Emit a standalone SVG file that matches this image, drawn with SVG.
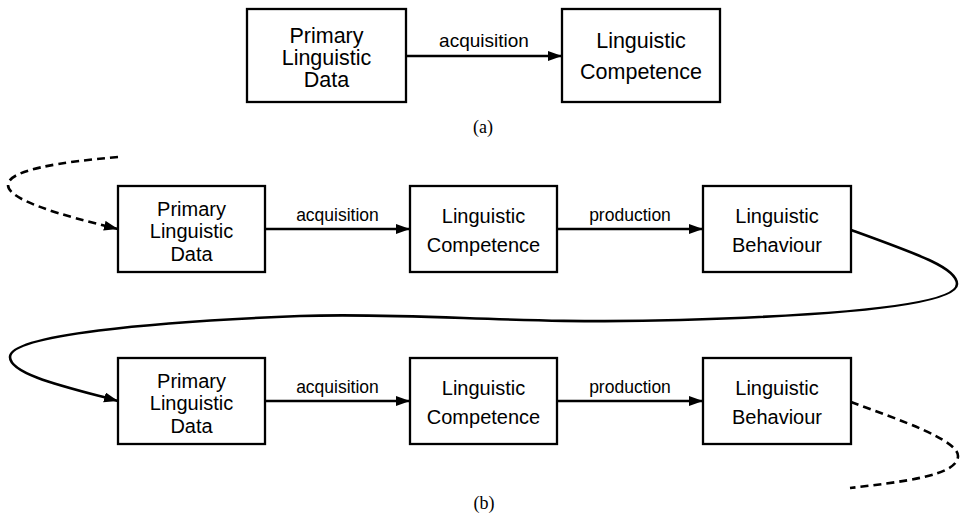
<svg xmlns="http://www.w3.org/2000/svg" width="961" height="516" viewBox="0 0 961 516">
<style>
.box{fill:#fff;stroke:#000;stroke-width:2.3}
.t{font-family:"Liberation Sans",Arial,sans-serif;font-size:20px;text-anchor:middle;fill:#000}
.ta{font-family:"Liberation Sans",Arial,sans-serif;font-size:21.5px;text-anchor:middle;fill:#000}
.lbl{font-family:"Liberation Sans",Arial,sans-serif;font-size:17.5px;text-anchor:middle;fill:#000}
.lbla{font-family:"Liberation Sans",Arial,sans-serif;font-size:19px;text-anchor:middle;fill:#000}
.cap{font-family:"Liberation Serif","Times New Roman",serif;font-size:18px;text-anchor:middle;fill:#000}
.e{fill:none;stroke:#000;stroke-width:2.3}
.c{fill:none;stroke:#000;stroke-width:2.6}
.d{stroke-dasharray:8,5}
</style>
<defs>
<marker id="ah" markerUnits="userSpaceOnUse" markerWidth="16" markerHeight="12" refX="14" refY="5" orient="auto">
<path d="M0,0 L14,5 L0,10 z" fill="#000"/>
</marker>
</defs>
<g id="connectors">
<path class="e" d="M406,56 H562" marker-end="url(#ah)"/>
<path class="e" d="M265,229 H410" marker-end="url(#ah)"/>
<path class="e" d="M557,229 H703" marker-end="url(#ah)"/>
<path class="e" d="M265,401 H410" marker-end="url(#ah)"/>
<path class="e" d="M557,401 H703" marker-end="url(#ah)"/>
<path class="c d" d="M118,157 C60,162 8,170 8,185 C8,200 60,215 118,229" marker-end="url(#ah)"/>
<path class="c" d="M851,230 C920,255 957,268 957,284 C957,304 850,315 680,320 C520,325 420,312 300,316 C150,322 10,335 10,357 C10,375 70,388 118,401" marker-end="url(#ah)"/>
<path class="c d" d="M851,402 C900,420 958,440 958,456 C958,476 900,482 850,488"/>
</g>
<g id="a-data">
<rect class="box" x="247" y="9" width="159" height="93"/>
<text class="ta" x="326.5" y="43">Primary</text>
<text class="ta" x="326.5" y="65">Linguistic</text>
<text class="ta" x="326.5" y="87">Data</text>
</g>
<g id="a-competence">
<rect class="box" x="562" y="9" width="158" height="93"/>
<text class="ta" x="641" y="48">Linguistic</text>
<text class="ta" x="641" y="79">Competence</text>
</g>
<text class="lbla" x="484" y="47">acquisition</text>
<text class="cap" x="483" y="133">(a)</text>
<g id="b1-data">
<rect class="box" x="118" y="186" width="147" height="86"/>
<text class="t" x="191.5" y="215.5">Primary</text>
<text class="t" x="191.5" y="238">Linguistic</text>
<text class="t" x="191.5" y="260.5">Data</text>
</g>
<g id="b1-competence">
<rect class="box" x="410" y="186" width="147" height="86"/>
<text class="t" x="483.5" y="222.5">Linguistic</text>
<text class="t" x="483.5" y="251.5">Competence</text>
</g>
<g id="b1-behaviour">
<rect class="box" x="703" y="186" width="148" height="86"/>
<text class="t" x="777" y="222.5">Linguistic</text>
<text class="t" x="777" y="251.5">Behaviour</text>
</g>
<text class="lbl" x="337.5" y="221">acquisition</text>
<text class="lbl" x="630" y="221">production</text>
<g id="b2-data">
<rect class="box" x="118" y="358" width="147" height="86"/>
<text class="t" x="191.5" y="387.5">Primary</text>
<text class="t" x="191.5" y="410">Linguistic</text>
<text class="t" x="191.5" y="432.5">Data</text>
</g>
<g id="b2-competence">
<rect class="box" x="410" y="358" width="147" height="86"/>
<text class="t" x="483.5" y="394.5">Linguistic</text>
<text class="t" x="483.5" y="423.5">Competence</text>
</g>
<g id="b2-behaviour">
<rect class="box" x="703" y="358" width="148" height="86"/>
<text class="t" x="777" y="394.5">Linguistic</text>
<text class="t" x="777" y="423.5">Behaviour</text>
</g>
<text class="lbl" x="337.5" y="393">acquisition</text>
<text class="lbl" x="630" y="393">production</text>
<text class="cap" x="484" y="509">(b)</text>
</svg>
